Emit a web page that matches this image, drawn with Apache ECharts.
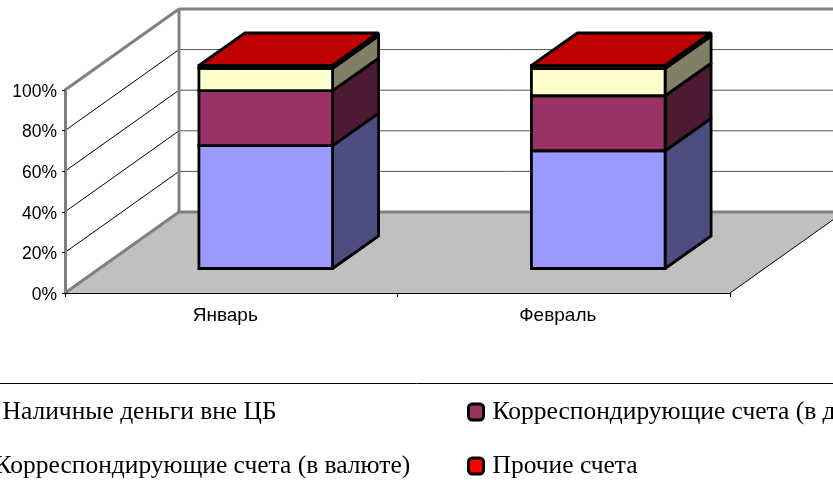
<!DOCTYPE html>
<html>
<head>
<meta charset="utf-8">
<style>
  html, body { margin: 0; padding: 0; background: #fff; overflow: hidden; }
  #chart { width: 833px; height: 489px; }
</style>
<script src="https://cdn.jsdelivr.net/npm/echarts@6/dist/echarts.min.js"></script>
</head>
<body>
<div id="chart"></div>
<script>
// data, percent of total
const months = ['Январь', 'Февраль'];
const cash = [60.5, 58];
const corrLocal = [27.1, 27.1];
const corrForeign = [11, 13.4];
const other = [1.4, 1.5];
const seriesNames = [
  'Наличные деньги вне ЦБ',
  'Корреспондирующие счета (в д',
  'Корреспондирующие счета (в валюте)',
  'Прочие счета'
];
const gridValues = [20, 40, 60, 80, 100];

const COLORS = ['#9999FF', '#993366', '#FFFFCC', '#FF0000'];
const WALL_GREY = '#808080';
const FLOOR_GREY = '#C0C0C0';

// fake 3d: how far the back wall and the bars sit from the axis plane, in px
const WALL_DX = 114;
const WALL_DY = -81;
const BAR_DX = 34.5;
const BAR_DY = -24.5;
const BAR_DEPTH_X = 46;
const BAR_DEPTH_Y = -32.5;
const BAR_WIDTH_RATE = 0.402;

// echarts.color.lift only brightens, so darken by hand
function shade(color, k) {
  const c = echarts.color.parse(color);
  return 'rgb(' + Math.round(c[0] * k) + ',' + Math.round(c[1] * k) + ',' + Math.round(c[2] * k) + ')';
}

function renderWalls(params, api) {
  const rect = params.coordSys;
  const left = rect.x;
  const right = rect.x + rect.width;
  const bottom = rect.y + rect.height;
  const top = rect.y;
  const children = [];

  // floor
  children.push({
    type: 'polygon',
    shape: { points: [[left, bottom], [right, bottom], [right + WALL_DX, bottom + WALL_DY], [left + WALL_DX, bottom + WALL_DY]] },
    style: { fill: FLOOR_GREY, stroke: null }
  });
  // gridlines on the left wall and the back wall
  gridValues.forEach(function (v) {
    const y = api.coord([0, v])[1];
    children.push({
      type: 'line',
      shape: { x1: left, y1: y, x2: left + WALL_DX, y2: y + WALL_DY },
      style: { stroke: '#000', lineWidth: 1 }
    });
    children.push({
      type: 'line',
      shape: { x1: left + WALL_DX, y1: y + WALL_DY, x2: right + WALL_DX, y2: y + WALL_DY },
      style: { stroke: '#555', lineWidth: 1 }
    });
  });
  // floor front right edge
  children.push({
    type: 'line',
    shape: { x1: right, y1: bottom, x2: right + WALL_DX, y2: bottom + WALL_DY },
    style: { stroke: '#000', lineWidth: 1 }
  });
  // thick wall frame
  const frame = [
    [left, bottom, left + WALL_DX, bottom + WALL_DY],
    [left, top, left + WALL_DX, top + WALL_DY],
    [left + WALL_DX, top + WALL_DY, left + WALL_DX, bottom + WALL_DY],
    [left + WALL_DX, top + WALL_DY, right + WALL_DX, top + WALL_DY],
    [left + WALL_DX, bottom + WALL_DY, right + WALL_DX, bottom + WALL_DY]
  ];
  frame.forEach(function (f) {
    children.push({
      type: 'line',
      shape: { x1: f[0], y1: f[1], x2: f[2], y2: f[3] },
      style: { stroke: WALL_GREY, lineWidth: 3 }
    });
  });
  return { type: 'group', children: children };
}

function renderSegment(params, api) {
  const cx = api.coord([api.value(0), 0])[0] + BAR_DX;
  const w = api.size([1, 0])[0] * BAR_WIDTH_RATE;
  const x0 = cx - w / 2;
  const x1 = cx + w / 2;
  const yBase = api.coord([0, api.value(1)])[1] + BAR_DY;
  const yTop = api.coord([0, api.value(2)])[1] + BAR_DY;
  const color = api.visual('color');
  const edge = { stroke: '#000', lineWidth: 2.8, lineJoin: 'miter', miterLimit: 2 };

  function face(points, fill) {
    return { type: 'polygon', shape: { points: points }, style: Object.assign({ fill: fill }, edge) };
  }
  return {
    type: 'group',
    children: [
      face([[x0, yTop], [x1, yTop], [x1 + BAR_DEPTH_X, yTop + BAR_DEPTH_Y], [x0 + BAR_DEPTH_X, yTop + BAR_DEPTH_Y]], shade(color, 0.75)),
      face([[x1, yBase], [x1 + BAR_DEPTH_X, yBase + BAR_DEPTH_Y], [x1 + BAR_DEPTH_X, yTop + BAR_DEPTH_Y], [x1, yTop]], shade(color, 0.5)),
      face([[x0, yBase], [x1, yBase], [x1, yTop], [x0, yTop]], color)
    ]
  };
}

// stack the values by hand, custom series do not stack
const stacks = [cash, corrLocal, corrForeign, other];
const running = months.map(function () { return 0; });
const segmentSeries = stacks.map(function (values, s) {
  const rows = values.map(function (v, i) {
    const row = [i, running[i], running[i] + v];
    running[i] += v;
    return row;
  });
  return {
    name: seriesNames[s],
    type: 'custom',
    renderItem: renderSegment,
    itemStyle: { color: COLORS[s] },
    encode: { x: 0, y: [1, 2] },
    clip: false,
    silent: true,
    z: 3,
    data: rows
  };
});

function legendAt(name, left, top) {
  return {
    data: [{ name: name, icon: 'roundRect' }],
    left: left,
    top: top,
    padding: 0,
    orient: 'horizontal',
    itemWidth: 15,
    itemHeight: 16,
    selectedMode: false,
    itemStyle: { borderColor: '#000', borderWidth: 3 },
    textStyle: { fontFamily: '"Liberation Serif"', fontSize: 25.5, color: '#000', padding: [0, 0, 0, 4] }
  };
}

const chart = echarts.init(document.getElementById('chart'));
chart.setOption({
  animation: false,
  backgroundColor: '#fff',
  grid: { left: 65, top: 90, width: 665, height: 203 },
  xAxis: {
    type: 'category',
    data: months,
    z: 5,
    axisLine: { lineStyle: { color: '#000', width: 1 } },
    axisTick: { show: true, length: 4, lineStyle: { color: '#000' } },
    axisLabel: { margin: 13, color: '#000', fontFamily: '"Liberation Sans"', fontSize: 19, padding: [0, 12, 0, 0] }
  },
  yAxis: {
    type: 'value',
    min: 0,
    max: 100,
    interval: 20,
    z: 5,
    splitLine: { show: false },
    axisLine: { show: true, lineStyle: { color: WALL_GREY, width: 3 } },
    axisTick: { show: true, length: 3, lineStyle: { color: '#000' } },
    axisLabel: {
      margin: 8,
      formatter: function (v) { return '{p|' + v + '%}'; },
      rich: { p: { color: '#000', fontFamily: '"Liberation Sans"', fontSize: 17.5, padding: [4, 0, 0, 0] } }
    }
  },
  legend: [
    legendAt(seriesNames[0], -23, 399),
    legendAt(seriesNames[1], 467, 399),
    legendAt(seriesNames[2], -31, 453),
    legendAt(seriesNames[3], 467, 453)
  ],
  graphic: [{
    type: 'line',
    shape: { x1: 0, y1: 383.5, x2: 833, y2: 383.5 },
    style: { stroke: '#000', lineWidth: 1 }
  }],
  series: [{
    type: 'custom',
    renderItem: renderWalls,
    clip: false,
    silent: true,
    z: 1,
    data: [[0, 0]]
  }].concat(segmentSeries)
});
</script>
</body>
</html>
